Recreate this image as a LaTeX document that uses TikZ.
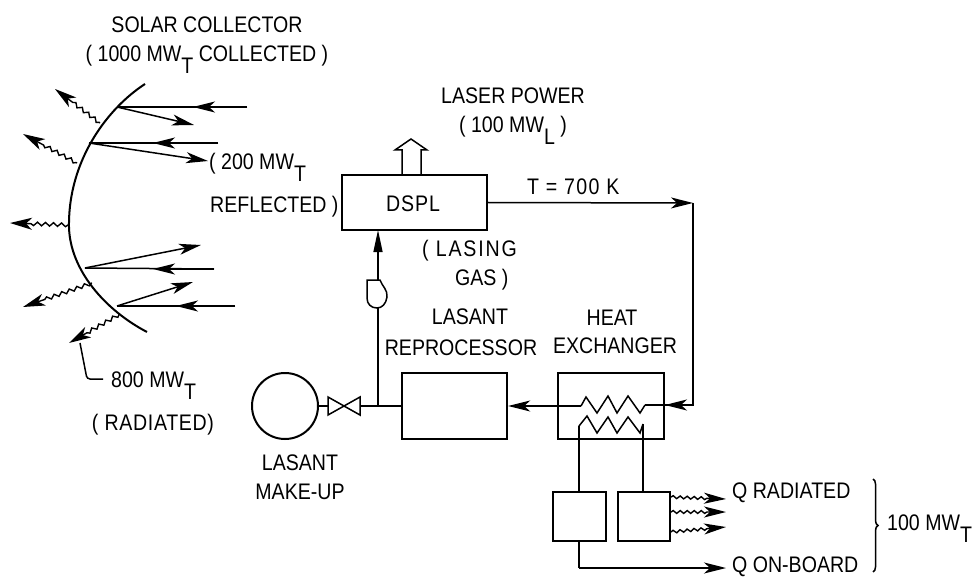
\documentclass[tikz,border=0pt]{standalone}
\usepackage{fontspec}
\setmainfont[FakeStretch=0.87]{Liberation Sans}
\usetikzlibrary{arrows.meta,decorations.pathmorphing,decorations.pathreplacing,calc}
\newcommand{\subT}[1]{\raisebox{-12pt}{#1}}
\newcommand{\spaced}[2]{{\addfontfeatures{LetterSpace=#1}#2}}
\tikzset{
  x=1pt,y=-1pt,
  lbl/.style={font=\fontsize{22.5}{26}\selectfont,inner sep=0pt,anchor=base,yshift=-8pt},
  lblw/.style={lbl,anchor=base west},
  flow/.style={line width=1.5pt,-{Stealth[length=22pt,width=11pt,inset=6pt]}},
  plain/.style={line width=1.5pt},
  wavy/.style={line width=1.4pt,-{Stealth[length=22pt,width=12pt,inset=6pt]},decorate,
    decoration={snake,segment length=8pt,amplitude=1.8pt,pre length=1pt,post length=20pt}},
  wavysm/.style={wavy,-{Stealth[length=22pt,width=11pt,inset=6pt]}},
  boxn/.style={draw,line width=2.4pt,inner sep=0pt,rectangle},
}
\begin{document}
\begin{tikzpicture}
\useasboundingbox (0,0) rectangle (976,577);
% collector
\draw[line width=2pt] (145,84) .. controls (108,108) and (68,160) .. (69,227)
   .. controls (70,270) and (105,310) .. (147,332);
% collector points
\coordinate (a1) at (117,107); \coordinate (a1in) at (247,107); \coordinate (a1m) at (193,107); \coordinate (a1r) at (194,125);
\coordinate (a2) at (89,143); \coordinate (a2in) at (218,143); \coordinate (a2m) at (153,143); \coordinate (a2r) at (208,161);
\coordinate (a3) at (85,268); \coordinate (a3in) at (214,269); \coordinate (a3m) at (153,269); \coordinate (a3r) at (201,245);
\coordinate (a4) at (117,306); \coordinate (a4in) at (235,306); \coordinate (a4m) at (176,306); \coordinate (a4r) at (193,282);
\foreach \p in {a1,a2,a3,a4}{
  \draw[plain] (\p in) -- (\p);
  \draw[flow] (\p in) -- (\p m);
  \draw[flow] (\p) -- (\p r);
}
% radiated
\coordinate (w1a) at (100,123); \coordinate (w1b) at (55,89);
\coordinate (w2a) at (77,163); \coordinate (w2b) at (23,134);
\coordinate (w3a) at (69,225); \coordinate (w3b) at (10,223);
\coordinate (w4a) at (92,283); \coordinate (w4b) at (23,307);
\coordinate (w5a) at (120,314); \coordinate (w5b) at (69,343);
\foreach \p in {w1,w2,w3,w4,w5}{\draw[wavy] (\p a) -- (\p b);}
\coordinate (lead0) at (80,343); \coordinate (lead1) at (87,379); \coordinate (lead2) at (103,379);
\draw[plain,rounded corners=3pt] (lead0) -- (lead1) -- (lead2);
% collector text
\node[lbl] (t1) at (207,25) {SOLAR COLLECTOR};
\node[lbl] (t2) at (207,54) {( 1000 MW\subT{T} COLLECTED )};
\node[lblw] (t3) at (209,162) {( 200 MW\subT{T}};
\node[lblw] (t4) at (210,205) {REFLECTED )};
\node[lblw] (t5) at (111,379) {800 MW\subT{T}};
\node[lbl] (t6) at (153,422) {\spaced{3}{( RADIATED)}};
% DSPL
\node[boxn,minimum width=145pt,minimum height=55pt] (dspl) at (414.5,202.5) {};
\node[lbl] (t0) at (413,204) {\spaced{4}{DSPL}};
\coordinate (up1) at (402,175); \coordinate (up2) at (402,150); \coordinate (up3) at (395,150);
\coordinate (up4) at (411,139); \coordinate (up5) at (427,150); \coordinate (up6) at (421,150); \coordinate (up7) at (421,175);
\draw[plain] (up1) -- (up2) -- (up3) -- (up4) -- (up5) -- (up6) -- (up7);
\node[lbl] (t7) at (513,96) {LASER POWER};
\node[lbl] (t8) at (513,125) {( 100 MW\subT{L} )};
\node[lblw] (t9) at (527,187) {\spaced{6}{T = 700 K}};
\node[lblw] (t10) at (422,248) {\spaced{8}{( LASING}};
\node[lblw] (t11) at (455,277) {GAS )};
% main loop
\coordinate (cnr1) at (693,203); \coordinate (cnr2) at (693,405); \coordinate (hxin) at (645,405);
\draw[flow] (dspl.east) -- (cnr1);
\draw[plain] (cnr1) -- (cnr2) -- (hxin);
\coordinate (hxm) at (665,405);
\draw[flow] (cnr2) -- (hxm);
% heat exchanger
\node[boxn,minimum width=106pt,minimum height=66pt] (hx) at (611,406) {};
\coordinate (c0) at (645,405); \coordinate (c1) at (640,413); \coordinate (c2) at (628,396);
\coordinate (c3) at (617,413); \coordinate (c4) at (608,396); \coordinate (c5) at (597,413);
\coordinate (c6) at (586,397); \coordinate (c7) at (581,406);
\draw[plain] (c0)--(c1)--(c2)--(c3)--(c4)--(c5)--(c6)--(c7);
% lower coil
\coordinate (d0) at (579,426); \coordinate (d1) at (587,416); \coordinate (d2) at (597,433);
\coordinate (d3) at (608,417); \coordinate (d4) at (617,433); \coordinate (d5) at (628,417);
\coordinate (d6) at (640,433); \coordinate (d7) at (643,424);
\draw[plain] (d0)--(d1)--(d2)--(d3)--(d4)--(d5)--(d6)--(d7);
% reprocessor
\node[boxn,minimum width=105pt,minimum height=66pt] (rp) at (454.5,406) {};
\draw[flow] (c7) -- (rp.east);
\node[lbl] (t12) at (470,316) {LASANT};
\node[lbl] (t13) at (461,347) {REPROCESSOR};
\node[lbl] (t14) at (612,317) {HEAT};
\node[lbl] (t15) at (615,345) {EXCHANGER};
% make-up tank, valve
\node[draw,circle,line width=2pt,minimum size=66pt,inner sep=0pt] (tank) at (285,406) {};
\coordinate (v1) at (328,397); \coordinate (v2) at (328,415); \coordinate (v3) at (344,406);
\coordinate (v4) at (360,397); \coordinate (v5) at (360,415);
\coordinate (vl) at (328,406); \coordinate (vr) at (360,406);
\draw[line width=1.5pt] (v1) -- (v2) -- (v4) -- (v5) -- cycle;
\draw[plain] (tank.east) -- (vl);
\draw[plain] (vr) -- (rp.west);
\coordinate (tee) at (378,406); \coordinate (pb) at (378,308); \coordinate (pt) at (378,280);
\draw[plain] (tee) -- (pb);
\draw[plain] (367,280) -- (380,280) .. controls (382,286) and (388,290) .. (387,297)
  .. controls (386,304) and (382,308) .. (377,308) .. controls (371,308) and (367,304) .. (367,298) -- cycle;
\draw[line width=1.4pt,-{Stealth[length=22pt,width=9pt,inset=0pt]}] (pt) -- (378,230);
\node[lbl] (t16) at (300,462) {LASANT};
\node[lbl] (t17) at (300,491) {MAKE-UP};
% small boxes
\node[boxn,minimum width=53pt,minimum height=49pt] (b1) at (579.5,516.5) {};
\node[boxn,minimum width=52pt,minimum height=49pt] (b2) at (644,516.5) {};
\coordinate (b1t) at (579,492); \coordinate (b2t) at (643,492);
\draw[plain] (d0) -- (b1t);
\draw[plain] (d7) -- (b2t);
\coordinate (b1b) at (579,541); \coordinate (bc) at (579,568); \coordinate (q) at (726,568);
\draw[plain] (b1b) -- (bc);
\draw[flow] (bc) -- (q);
\coordinate (r1a) at (670,497); \coordinate (r1b) at (726,499);
\coordinate (r2a) at (670,512); \coordinate (r2b) at (726,512);
\coordinate (r3a) at (670,532); \coordinate (r3b) at (726,527);
\foreach \p in {r1,r2,r3}{\draw[wavysm,decoration={snake,segment length=7pt,amplitude=1.4pt,post length=18pt}] (\p a) -- (\p b);}
\node[lblw] (t18) at (732,490) {Q RADIATED};
\node[lblw] (t19) at (732,564.5) {Q ON-BOARD};
\coordinate (br1) at (873,479); \coordinate (br2) at (873,572);
\draw[line width=1.5pt,decorate,decoration={brace,amplitude=5pt}] (br1) -- (br2);
\node[lblw] (t20) at (887,522) {100 MW\subT{T}};
\end{tikzpicture}
\end{document}
